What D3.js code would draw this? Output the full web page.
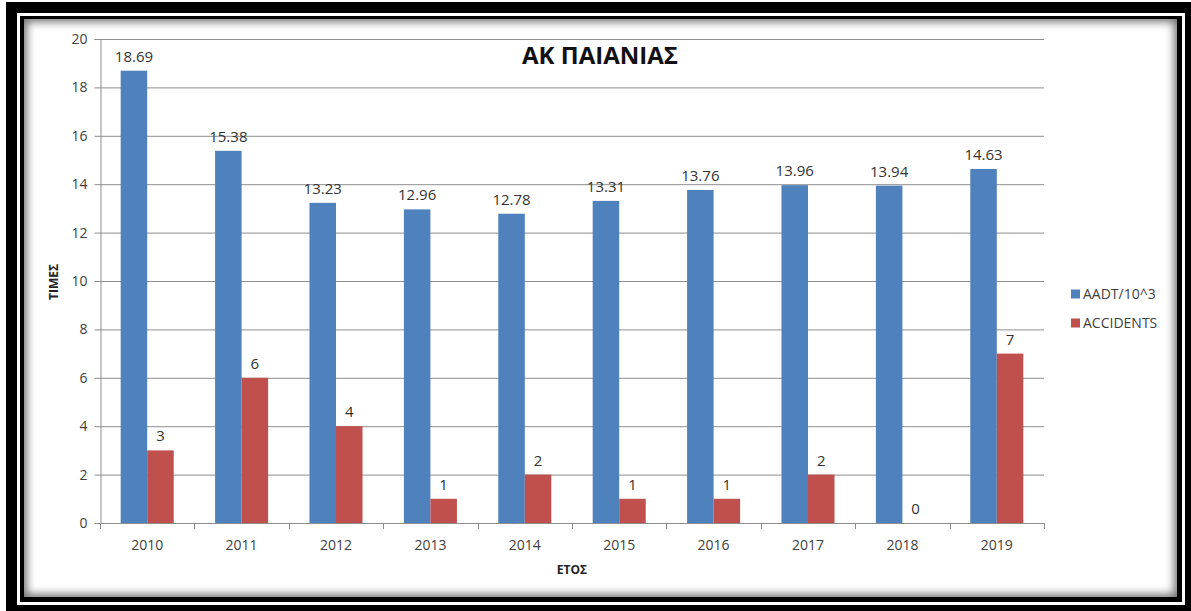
<!DOCTYPE html>
<html>
<head>
<meta charset="utf-8">
<script src="https://cdn.jsdelivr.net/npm/d3@7"></script>
<style>
  html, body { margin: 0; padding: 0; background: #fff; width: 1191px; height: 611px; overflow: hidden; }
  #frame-outer { position: absolute; left: 6px; top: 2px; width: 1185px; height: 609px; background: #000; }
  #frame-line { position: absolute; left: 17px; top: 13px; width: 1168px; height: 592px; background: #fff; }
  #frame-inner { position: absolute; left: 20px; top: 16px; width: 1162px; height: 586px; background: #000; }
  #panel { position: absolute; left: 24px; top: 19px; width: 1153px; height: 578px; background: #fff;
           box-shadow: inset 0 0 9px 3px rgba(0,0,0,0.55); }
  svg { position: absolute; left: 0; top: 0; }
  text { font-family: "Open Sans", "Noto Sans", sans-serif; }
</style>
</head>
<body>
<div id="frame-outer"></div>
<div id="frame-line"></div>
<div id="frame-inner"></div>
<div id="panel"></div>
<svg id="chart" width="1191" height="611"></svg>
<script>
// Yearly figures for the toll station
const years = ["2010", "2011", "2012", "2013", "2014", "2015", "2016", "2017", "2018", "2019"];
const aadt = [18.69, 15.38, 13.23, 12.96, 12.78, 13.31, 13.76, 13.96, 13.94, 14.63];
const accidents = [3, 6, 4, 1, 2, 1, 1, 2, 0, 7];
const seriesNames = ["AADT/10^3", "ACCIDENTS"];
const seriesColors = ["#4F81BD", "#C0504D"];
const yTicks = [0, 2, 4, 6, 8, 10, 12, 14, 16, 18, 20];

const svg = d3.select("#chart");
const plotLeft = 100, plotRight = 1044, plotTop = 39, plotBottom = 523;

const x = d3.scaleBand().domain(years).range([plotLeft, plotRight]).paddingInner(0).paddingOuter(0);
const xInner = d3.scaleBand().domain([0, 1]).range([0, x.bandwidth()]).paddingInner(0).paddingOuter(0.78);
const y = d3.scaleLinear().domain([0, 20]).range([plotBottom, plotTop]);

// horizontal gridlines
svg.append("g").selectAll("line").data(yTicks.filter(d => d > 0)).join("line")
  .attr("x1", plotLeft).attr("x2", plotRight)
  .attr("y1", d => y(d) + 0.5).attr("y2", d => y(d) + 0.5)
  .attr("stroke", "#8e8e8e").attr("stroke-width", 1);

// y axis
const yAxis = svg.append("g").attr("transform", `translate(${plotLeft + 0.5},0)`)
  .call(d3.axisLeft(y).tickValues(yTicks).tickSize(6).tickPadding(7));
yAxis.select(".domain").attr("stroke", "#8e8e8e");
yAxis.selectAll(".tick line").attr("stroke", "#8e8e8e");
yAxis.selectAll(".tick text").attr("fill", "#404040").style("font-size", "14px")
  .style("font-family", "'Open Sans', sans-serif");

// bars
const groups = svg.append("g").selectAll("g").data(years).join("g")
  .attr("transform", d => `translate(${x(d)},0)`);
const rows = years.map((yr, i) => [aadt[i], accidents[i]]);

groups.selectAll("rect").data((d, i) => rows[i]).join("rect")
  .attr("x", (v, j) => xInner(j))
  .attr("width", xInner.bandwidth())
  .attr("y", v => y(v))
  .attr("height", v => y(0) - y(v))
  .attr("fill", (v, j) => seriesColors[j]);

// value labels
groups.selectAll("text").data((d, i) => rows[i]).join("text")
  .attr("x", (v, j) => xInner(j) + xInner.bandwidth() / 2)
  .attr("y", v => y(v) - 9)
  .attr("text-anchor", "middle")
  .attr("fill", "#333")
  .style("font-size", "15px")
  .text((v, j) => j === 0 ? v.toFixed(2) : String(v));

// x axis line and boundary ticks
svg.append("line").attr("x1", plotLeft).attr("x2", plotRight)
  .attr("y1", plotBottom + 0.5).attr("y2", plotBottom + 0.5).attr("stroke", "#8e8e8e");
const boundaries = years.map(d => x(d)).concat([plotRight]);
svg.append("g").selectAll("line").data(boundaries).join("line")
  .attr("x1", d => Math.round(d) + 0.5).attr("x2", d => Math.round(d) + 0.5)
  .attr("y1", plotBottom).attr("y2", plotBottom + 6).attr("stroke", "#8e8e8e");
svg.append("g").selectAll("text").data(years).join("text")
  .attr("x", d => x(d) + x.bandwidth() / 2)
  .attr("y", plotBottom + 27)
  .attr("text-anchor", "middle")
  .attr("fill", "#404040")
  .style("font-size", "14px")
  .text(d => d);

// titles
svg.append("text").attr("x", 600).attr("y", 64).attr("text-anchor", "middle")
  .attr("fill", "#111").style("font-size", "24px").style("font-weight", "bold")
  .text("ΑΚ ΠΑΙΑΝΙΑΣ");
svg.append("text").attr("x", 572).attr("y", 574).attr("text-anchor", "middle")
  .attr("fill", "#222").style("font-size", "12px").style("font-weight", "bold")
  .text("ΕΤΟΣ");
svg.append("text").attr("transform", "translate(58,282) rotate(-90)").attr("text-anchor", "middle")
  .attr("fill", "#222").style("font-size", "12px").style("font-weight", "bold")
  .text("ΤΙΜΕΣ");

// legend
const legend = svg.append("g").selectAll("g").data(seriesNames).join("g")
  .attr("transform", (d, i) => `translate(1071,${294 + i * 29})`);
legend.append("rect").attr("x", 0).attr("y", -4.5).attr("width", 9).attr("height", 9)
  .attr("fill", (d, i) => seriesColors[i]);
legend.append("text").attr("x", 12).attr("y", 5).attr("fill", "#404040")
  .style("font-size", "14px").text(d => d);
</script>
</body>
</html>
